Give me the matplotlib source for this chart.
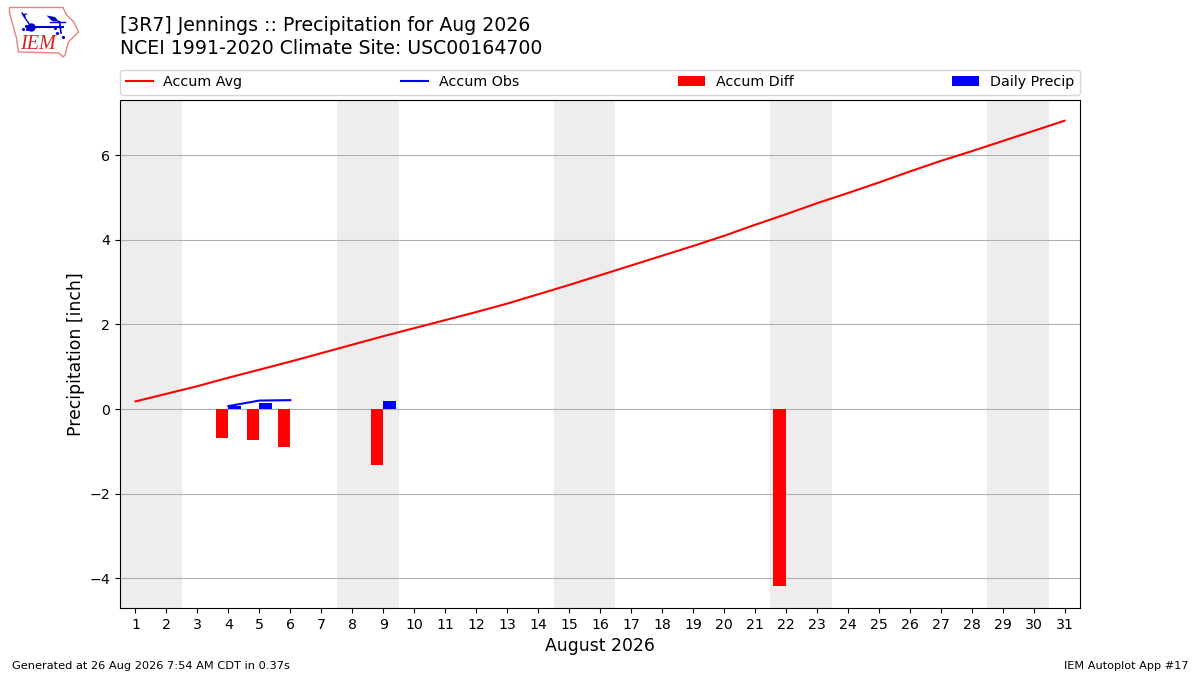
import matplotlib
matplotlib.use("Agg")
import matplotlib.pyplot as plt
from matplotlib.patches import Polygon

days = list(range(1, 32))
accum_avg = [0.18, 0.36, 0.54, 0.74, 0.93, 1.12, 1.32, 1.52, 1.72, 1.91, 2.10, 2.29, 2.49,
             2.71, 2.93, 3.16, 3.39, 3.62, 3.85, 4.09, 4.35, 4.60, 4.86, 5.10, 5.35, 5.61,
             5.86, 6.09, 6.33, 6.57, 6.81]
obs_days = [4, 5, 6]
accum_obs = [0.07, 0.20, 0.21]
diff_days = [4, 5, 6, 9, 22]
accum_diff = [-0.68, -0.74, -0.89, -1.32, -4.18]
precip_days = [4, 5, 9]
daily_precip = [0.07, 0.14, 0.20]
weekends = [(0.5, 2.5), (7.5, 9.5), (14.5, 16.5), (21.5, 23.5), (28.5, 30.5)]
title_lines = ["[3R7] Jennings :: Precipitation for Aug 2026",
               "NCEI 1991-2020 Climate Site: USC00164700"]

W, H = 1200, 675
fig = plt.figure(figsize=(12, 6.75), dpi=100)
ax = fig.add_axes([120 / W, 1 - 608 / H, 960 / W, 508 / H])

for a, b in weekends:
    ax.axvspan(a, b, color="#ededed", lw=0, zorder=0)
ax.plot(days, accum_avg, color="red", lw=1.5, label="Accum Avg", zorder=3)
ax.plot(obs_days, accum_obs, color="blue", lw=1.5, label="Accum Obs", zorder=3)
ax.bar(diff_days, accum_diff, width=-0.4, align="edge", color="red", label="Accum Diff", zorder=2)
ax.bar(precip_days, daily_precip, width=0.4, align="edge", color="blue", label="Daily Precip", zorder=2)

ax.set_xlim(0.5, 31.5)
ax.set_ylim(-4.7, 7.3)
ax.set_xticks(days)
ax.set_yticks([-4, -2, 0, 2, 4, 6])
ax.tick_params(labelsize=10.2)
ax.yaxis.grid(True, color="#b0b0b0", lw=0.8, zorder=1)
ax.set_axisbelow(True)
ax.set_ylabel("Precipitation [inch]", fontsize=12.4, labelpad=3)
ax.set_xlabel("August 2026", fontsize=12.4)
ax.legend(loc="lower left", bbox_to_anchor=(0, 1.01, 1, 0.06), mode="expand", ncol=4,
          borderaxespad=0, fontsize=10.25, handlelength=1.9, handletextpad=0.75)

fig.text(120 / W, 1 - 31 / H, title_lines[0], fontsize=13.6, ha="left", va="baseline")
fig.text(120 / W, 1 - 54.5 / H, title_lines[1], fontsize=13.6, ha="left", va="baseline")
fig.text(12 / W, 1 - 671 / H, "Generated at 26 Aug 2026 7:54 AM CDT in 0.37s", fontsize=8.2, va="bottom")
fig.text(1188 / W, 1 - 671 / H, "IEM Autoplot App #17", fontsize=8.1, ha="right", va="bottom")

# logo, drawn in reference pixel coordinates
logo = fig.add_axes([0, 1 - 60 / H, 85 / W, 60 / H])
logo.set_xlim(0, 85)
logo.set_ylim(60, 0)
logo.axis("off")
logo.add_patch(Polygon([(9.5, 7.5), (63, 7.5), (66.5, 15), (74, 22), (78.5, 32), (68.5, 42),
                        (65, 55), (63, 57), (59, 53), (18.5, 52), (16.5, 38), (11.5, 20), (9.5, 13)],
                       closed=True, fc="white", ec="#e88080", lw=1))
logo.plot([31, 63], [26.7, 26.7], color="#0000cc", lw=1.5)
logo.plot([31], [26.7], "o", color="#0000cc", ms=5)
logo.plot([31, 24], [26.7, 16.5], color="#0000cc", lw=1)
logo.plot([22, 25, 23, 26], [13, 16.5, 15, 14], color="#0000cc", lw=1)
logo.add_patch(Polygon([(46.5, 15.5), (55, 17), (59.5, 22), (52, 21)], closed=True, fc="#0000cc", ec="none"))
logo.plot([50, 65], [21.7, 21.7], color="#0000cc", lw=1)
logo.plot([59.5, 61], [21.7, 33], color="#0000cc", lw=1.2)
logo.plot([55, 56.7, 62.7], [28.3, 32.7, 37.3], ".", color="#0000cc", ms=2.5)
logo.plot([23.3, 26, 26.7], [29.3, 26, 29.3], ".", color="#0000cc", ms=2.5)
logo.text(38, 44.5, "IEM", color="#d62020", fontsize=14.5, family="Liberation Serif", style="italic",
          ha="center", va="center")

fig.savefig("out.png", dpi=100)
